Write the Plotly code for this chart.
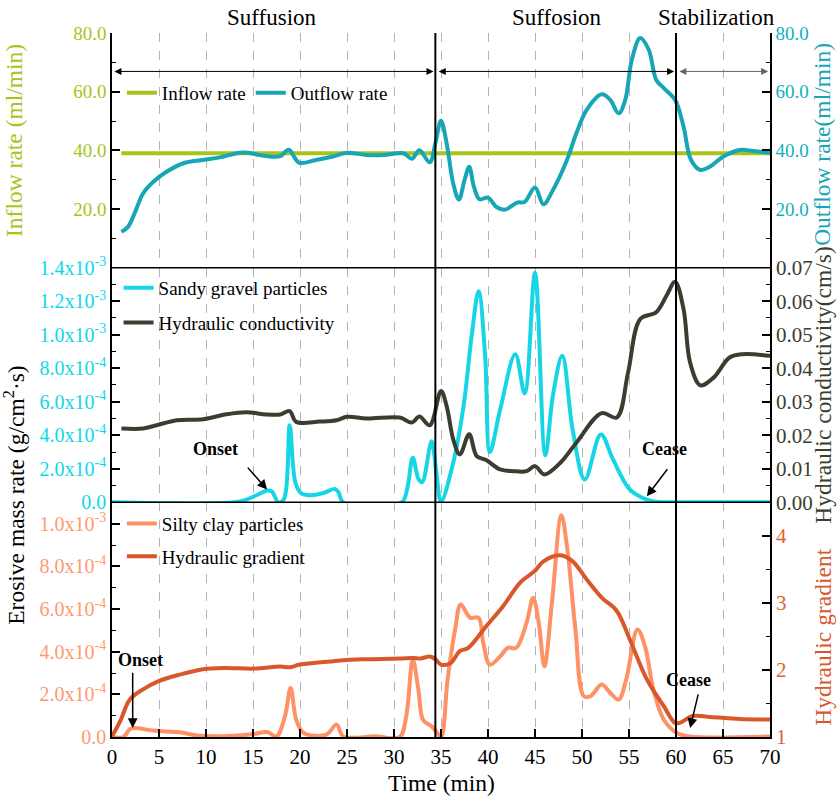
import plotly.graph_objects as go

FONT = "Liberation Serif, Times New Roman, serif"

# colours
C_IN = "#a6c41c"
C_OUT = "#16a6b6"
C_SAND = "#16d6e6"
C_HC = "#3c3d30"
C_SILT = "#ff9166"
C_HG = "#d8582c"

# ---------------------------
# DATA
# ---------------------------

# top panel: inflow / outflow (ml/min)
inflow_t = [1.0, 70.0]
inflow_v = [39.0, 39.0]

outflow_t = [1.0, 1.7, 2.4, 3.3, 4.4, 5.8, 7.6, 9.7, 11.5, 13.6, 14.5, 15.7, 16.8, 17.9,
             18.8, 19.9, 21.7, 23.5, 25.0, 27.1, 28.9, 31.0, 31.9, 32.7, 33.8, 34.4,
             35.0, 35.6, 36.3, 36.9, 37.5, 38.0, 38.5, 39.1, 40.0, 40.9, 41.8, 43.1,
             43.9, 45.0, 45.9, 46.9, 48.4, 49.4, 50.5, 52.1, 53.0, 53.9, 54.6, 55.3,
             56.2, 57.1, 57.9, 58.7, 59.9, 60.8, 61.6, 62.6, 63.6, 65.0, 66.8, 68.2, 70.0]
outflow_v = [12.2, 13.9, 18.5, 25.3, 29.3, 32.7, 35.6, 36.7, 37.6, 39.2, 39.2, 38.4, 37.9, 38.0,
             40.2, 35.8, 36.7, 37.9, 39.2, 38.4, 38.4, 39.0, 37.1, 40.0, 35.9, 42.4,
             50.1, 42.4, 28.7, 23.2, 29.8, 34.4, 27.6, 23.3, 23.9, 20.7, 19.8, 22.2,
             22.4, 27.3, 21.6, 26.4, 36.7, 45.8, 53.8, 59.1, 57.2, 52.6, 57.2, 70.9,
             78.3, 74.3, 64.0, 61.2, 57.2, 48.1, 36.7, 33.3, 34.4, 37.8, 40.1, 39.8, 39.2]

# middle panel: sandy gravel erosive mass rate (g/cm2.s) and hydraulic conductivity (cm/s)
sand_t = [0.0, 13.0, 14.3, 15.5, 16.5, 17.0, 17.7, 18.3, 18.9, 19.5, 20.1, 21.1, 22.5, 23.7,
          24.1, 24.6, 30.8, 31.4, 32.0, 32.6, 33.0, 34.0, 34.5, 35.0, 36.3, 37.4, 38.3,
          39.0, 39.7, 40.2, 41.3, 42.9, 43.9, 45.0, 46.1, 46.9, 47.9, 49.0, 50.3, 52.0,
          53.3, 55.1, 56.9, 58.0, 60.0, 70.0]
sand_v = [0.0, 0.0, 0.16, 0.45, 0.70, 0.65, 0.0, 0.2, 4.6, 1.2, 0.55, 0.42, 0.56, 0.8,
          0.6, 0.0, 0.0, 0.8, 2.66, 1.4, 1.2, 3.65, 1.8, 0.05, 2.36, 5.75, 10.1,
          12.6, 8.7, 3.0, 5.55, 8.84, 6.5, 13.7, 2.8, 6.35, 8.74, 4.35, 1.36, 4.05,
          2.56, 0.76, 0.16, 0.02, 0.0, 0.0]
sand_v = [v * 1e-4 for v in sand_v]

hc_t = [1.0, 3.3, 4.75, 6.9, 9.7, 12.2, 14.3, 16.4, 17.9, 18.9, 19.6, 22.1, 23.9, 25.0,
        27.1, 30.6, 31.9, 32.7, 33.8, 35.0, 35.6, 36.3, 37.0, 38.0, 38.8, 39.8, 41.3,
        42.7, 44.1, 45.0, 46.0, 47.7, 49.4, 52.1, 53.7, 54.9, 56.2, 57.9, 59.0, 59.9,
        60.8, 61.5, 62.6, 64.0, 65.7, 67.1, 70.0]
hc_v = [2.20, 2.20, 2.30, 2.45, 2.48, 2.63, 2.69, 2.62, 2.62, 2.72, 2.40, 2.41, 2.45, 2.55,
        2.50, 2.53, 2.38, 2.56, 2.30, 3.32, 2.87, 1.88, 1.43, 2.03, 1.38, 1.26, 0.98,
        0.93, 0.93, 1.08, 0.83, 1.18, 1.78, 2.66, 2.53, 3.87, 5.47, 5.67, 6.17, 6.58,
        5.77, 4.17, 3.49, 3.72, 4.32, 4.42, 4.37]
hc_v = [v * 0.01 for v in hc_v]

# bottom panel: silty clay erosive mass rate and hydraulic gradient
silt_t = [0.0, 1.2, 1.9, 2.4, 4.4, 5.8, 7.2, 9.3, 13.0, 15.1, 16.5, 17.5, 18.4, 19.0, 19.6,
          20.4, 22.8, 23.9, 24.6, 28.0, 30.6, 31.3, 32.0, 32.6, 33.1, 34.0, 34.5, 35.0,
          35.7, 36.5, 37.1, 38.1, 39.0, 39.5, 40.2, 41.3, 42.1, 43.0, 44.1, 44.8, 45.4,
          46.0, 46.8, 47.8, 48.4, 49.3, 50.2, 50.9, 52.1, 53.0, 53.9, 54.7, 55.9, 56.7,
          57.6, 58.7, 60.1, 61.4, 70.0]
silt_v = [0.0, 0.0, 0.37, 0.42, 0.30, 0.26, 0.22, 0.06, 0.06, 0.14, 0.23, 0.03, 0.97, 2.30, 0.81,
          0.19, 0.11, 0.58, 0.03, 0.03, 0.0, 0.97, 3.63, 2.2, 0.8, 0.5, 0.25, 0.0,
          2.69, 5.04, 6.21, 5.59, 5.59, 4.41, 3.39, 3.78, 4.18, 4.18, 5.35, 6.53, 5.35,
          3.31, 6.29, 10.4, 8.95, 5.04, 1.91, 1.91, 2.46, 2.07, 1.75, 2.69, 5.04, 4.25,
          2.22, 0.81, 0.19, 0.03, 0.02]
silt_v = [v * 1e-4 for v in silt_v]

hg_t = [0.0, 0.85, 1.9, 3.3, 4.9, 7.2, 9.7, 11.9, 15.1, 17.9, 18.9, 20.0, 23.5, 25.0, 27.1,
        30.6, 32.0, 32.8, 33.8, 34.4, 35.0, 36.0, 37.0, 37.9, 39.8, 41.6, 43.4, 45.0,
        45.9, 47.7, 49.0, 50.5, 52.1, 53.7, 55.1, 56.9, 58.7, 59.9, 60.4, 61.7, 63.6,
        66.8, 70.0]
hg_v = [1.01, 1.23, 1.56, 1.71, 1.83, 1.93, 2.01, 2.03, 2.02, 2.05, 2.04, 2.08, 2.13, 2.15, 2.16,
        2.17, 2.18, 2.17, 2.20, 2.16, 2.08, 2.10, 2.28, 2.33, 2.65, 2.95, 3.30, 3.48,
        3.62, 3.71, 3.62, 3.35, 3.08, 2.88, 2.45, 1.86, 1.46, 1.21, 1.21, 1.31, 1.30,
        1.27, 1.26]

# phase boundaries and labels
phase_bounds = [34.4, 60.0]
phase_names = ["Suffusion", "Suffosion", "Stabilization"]
phase_centers = [17.0, 47.3, 64.3]

# tick labels
x_ticks = list(range(0, 75, 5))
flow_ticks = [20, 40, 60, 80]
flow_ticktext = ["20.0", "40.0", "60.0", "80.0"]
sand_ticks = [0, 2e-4, 4e-4, 6e-4, 8e-4, 1.0e-3, 1.2e-3, 1.4e-3]
sand_ticktext = ["0.0", "2.0x10<sup>-4</sup>", "4.0x10<sup>-4</sup>", "6.0x10<sup>-4</sup>",
                 "8.0x10<sup>-4</sup>", "1.0x10<sup>-3</sup>", "1.2x10<sup>-3</sup>",
                 "1.4x10<sup>-3</sup>"]
hc_ticks = [0, 0.01, 0.02, 0.03, 0.04, 0.05, 0.06, 0.07]
hc_ticktext = ["0.00", "0.01", "0.02", "0.03", "0.04", "0.05", "0.06", "0.07"]
silt_ticks = [0, 2e-4, 4e-4, 6e-4, 8e-4, 1.0e-3]
silt_ticktext = ["0.0", "2.0x10<sup>-4</sup>", "4.0x10<sup>-4</sup>", "6.0x10<sup>-4</sup>",
                 "8.0x10<sup>-4</sup>", "1.0x10<sup>-3</sup>"]
hg_ticks = [1, 2, 3, 4]
hg_ticktext = ["1", "2", "3", "4"]


# ---------------------------
# FIGURE
# ---------------------------

fig = go.Figure()

line_kw = dict(mode="lines", line_shape="spline", xaxis="x")

fig.add_trace(go.Scatter(x=inflow_t, y=inflow_v, name="Inflow rate", yaxis="y",
                         legend="legend", line=dict(color=C_IN, width=4), mode="lines"))
fig.add_trace(go.Scatter(x=outflow_t, y=outflow_v, name="Outflow rate", yaxis="y2",
                         legend="legend", line=dict(color=C_OUT, width=4), **line_kw))
fig.add_trace(go.Scatter(x=sand_t, y=sand_v, name="Sandy gravel particles", yaxis="y3",
                         legend="legend2", legendgroup="a", line=dict(color=C_SAND, width=4), **line_kw))
fig.add_trace(go.Scatter(x=hc_t, y=hc_v, name="Hydraulic conductivity", yaxis="y4",
                         legend="legend2", legendgroup="b", line=dict(color=C_HC, width=4), **line_kw))
fig.add_trace(go.Scatter(x=silt_t, y=silt_v, name="Silty clay particles", yaxis="y5",
                         legend="legend3", legendgroup="c", line=dict(color=C_SILT, width=4), **line_kw))
fig.add_trace(go.Scatter(x=hg_t, y=hg_v, name="Hydraulic gradient", yaxis="y6",
                         legend="legend3", legendgroup="d", line=dict(color=C_HG, width=4), **line_kw))


def yax(domain, rng, ticks, text, color, minor_vals, side="left", overlay=None, size=20):
    ax = dict(domain=domain, range=rng, tickmode="array", tickvals=ticks, ticktext=text,
              ticks="inside", ticklen=8, tickwidth=1.5, tickcolor="black",
              showline=True, linecolor="black", linewidth=1.5, showgrid=False, zeroline=False,
              tickfont=dict(family=FONT, size=size, color=color), side=side, anchor="x",
              minor=dict(tickmode="array", tickvals=minor_vals, ticks="inside", ticklen=4,
                         tickwidth=1.2, tickcolor="black"))
    if overlay:
        ax["overlaying"] = overlay
        ax.pop("domain")
    return ax


third = 1 / 3
fig.update_layout(
    width=837, height=804,
    margin=dict(l=112, r=67, t=33, b=67),
    paper_bgcolor="white", plot_bgcolor="white",
    font=dict(family=FONT, size=19, color="black"),
    xaxis=dict(range=[0, 70], tickmode="array", tickvals=x_ticks, anchor="y5",
               ticks="inside", ticklen=8, tickwidth=1.5, tickcolor="black",
               showline=True, linecolor="black", linewidth=1.5, zeroline=False,
               showgrid=True, gridcolor="#b4b4b4", gridwidth=0.8, griddash="dash",
               tickfont=dict(family=FONT, size=21, color="black")),
    yaxis=yax([2 * third, 1], [0, 80], flow_ticks, flow_ticktext, C_IN, [10, 30, 50, 70], size=19),
    yaxis2=yax(None, [0, 80], flow_ticks, flow_ticktext, "#10b0c0", [10, 30, 50, 70],
               side="right", overlay="y", size=19),
    yaxis3=yax([third, 2 * third], [0, 1.4e-3], sand_ticks, sand_ticktext, "#10d8e8",
               [1e-4, 3e-4, 5e-4, 7e-4, 9e-4, 1.1e-3, 1.3e-3], size=20),
    yaxis4=yax(None, [0, 0.07], hc_ticks, hc_ticktext, C_HC,
               [0.005, 0.015, 0.025, 0.035, 0.045, 0.055, 0.065], side="right", overlay="y3", size=21),
    yaxis5=yax([0, third], [0, 1.1e-3], silt_ticks, silt_ticktext, "#ff9a70",
               [1e-4, 3e-4, 5e-4, 7e-4, 9e-4], size=20),
    yaxis6=yax(None, [1, 4.5], hg_ticks, hg_ticktext, "#e4622f", [1.5, 2.5, 3.5],
               side="right", overlay="y5", size=21),
    legend=dict(x=0.015, y=0.915, xanchor="left", yanchor="middle", orientation="h",
                bgcolor="rgba(0,0,0,0)", font=dict(family=FONT, size=19)),
    legend2=dict(x=0.01, y=0.665, xanchor="left", yanchor="top", bgcolor="rgba(0,0,0,0)",
                 font=dict(family=FONT, size=19), tracegroupgap=7),
    legend3=dict(x=0.015, y=0.33, xanchor="left", yanchor="top", bgcolor="rgba(0,0,0,0)",
                 font=dict(family=FONT, size=19), tracegroupgap=5),
)

# panel separators and phase boundaries
for yy in [third, 2 * third]:
    fig.add_shape(type="line", xref="paper", yref="paper", x0=0, x1=1, y0=yy, y1=yy,
                  line=dict(color="black", width=1.5))
for xb in phase_bounds:
    fig.add_shape(type="line", xref="x", yref="paper", x0=xb, x1=xb, y0=0, y1=1,
                  line=dict(color="black", width=2))

# phase labels
for name, xc in zip(phase_names, phase_centers):
    fig.add_annotation(text=name, x=xc, xref="x", y=1.0, yref="paper", yanchor="bottom",
                       showarrow=False, yshift=1, font=dict(family=FONT, size=23, color="black"))

# double-headed arrows over the phases
arrow_y = 66.9
segs = [(0.1, 34.2, "black"), (34.6, 59.8, "black"), (60.2, 69.8, "#666666")]
for x0, x1, col in segs:
    fig.add_annotation(x=x1, y=arrow_y, ax=x0, ay=arrow_y, xref="x", yref="y", axref="x",
                       ayref="y", text="", showarrow=True, arrowhead=2, arrowside="end+start",
                       arrowsize=1.4, arrowwidth=1, arrowcolor=col, standoff=0, startstandoff=0)

# onset / cease markers
marks = [
    ("Onset", 10.96, 3.16e-4, 16.5, 0.76e-4, 14.3, 2.16e-4, "y3"),
    ("Cease", 58.8, 3.16e-4, 56.9, 0.36e-4, 59.2, 2.06e-4, "y3"),
    ("Onset", 3.0, 3.63e-4, 2.2, 0.42e-4, 2.2, 3.08e-4, "y5"),
    ("Cease", 61.3, 2.69e-4, 61.5, 0.42e-4, 62.4, 2.07e-4, "y5"),
]
for txt, tx, ty, hx, hy, tlx, tly, yr in marks:
    fig.add_annotation(text="<b>%s</b>" % txt, x=tx, y=ty, xref="x", yref=yr, showarrow=False,
                       font=dict(family=FONT, size=18, color="black"))
    fig.add_annotation(x=hx, y=hy, ax=tlx, ay=tly, xref="x", yref=yr, axref="x", ayref=yr,
                       text="", showarrow=True, arrowhead=2, arrowsize=1.3, arrowwidth=1.5,
                       arrowcolor="black", standoff=0)

# axis titles
titles = [
    ("Inflow rate (ml/min)", -0.149, 0.848, C_IN),
    ("Erosive mass rate (g/cm<sup>2</sup>·s)", -0.149, 0.344, "black"),
    ("Outflow rate(ml/min)", 1.08, 0.842, C_OUT),
    ("Hydraulic conductivity(cm/s)", 1.08, 0.50, C_HC),
    ("Hydraulic gradient", 1.08, 0.142, C_HG),
]
for txt, px_, py_, col in titles:
    fig.add_annotation(text=txt, x=px_, y=py_, xref="paper", yref="paper", textangle=-90,
                       xanchor="center", yanchor="middle", showarrow=False,
                       font=dict(family=FONT, size=23.5, color=col))
fig.add_annotation(text="Time (min)", x=0.5, y=-0.065, xref="paper", yref="paper",
                   xanchor="center", yanchor="middle", showarrow=False,
                   font=dict(family=FONT, size=23.5, color="black"))

# page body has a default 8px margin; drop it so the figure sits at the corner
fig.write_html("out.html", config={"displayModeBar": False},
               post_script="document.body.style.margin='0px';")
